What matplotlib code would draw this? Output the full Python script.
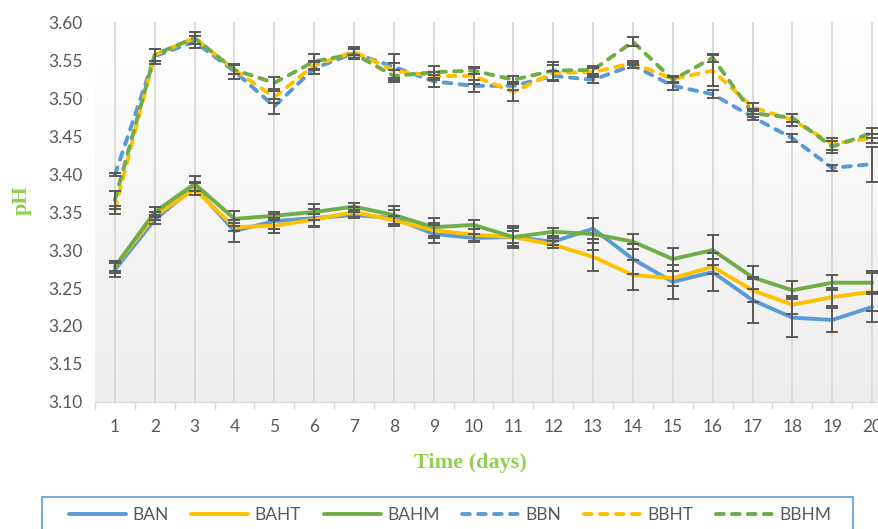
#! /usr/bin/env python3

import numpy as np
import matplotlib
matplotlib.use('Agg')
import matplotlib.pyplot as plt
from matplotlib.patches import Rectangle

# ========================================= #
# DATA      #
# ========================================= #

days = list(range(1, 21))

BAN  = [3.274, 3.340, 3.383, 3.325, 3.338, 3.342, 3.346, 3.342, 3.321, 3.316,
        3.317, 3.311, 3.328, 3.288, 3.258, 3.271, 3.234, 3.211, 3.208, 3.225]
BAHT = [3.278, 3.345, 3.380, 3.330, 3.332, 3.340, 3.350, 3.339, 3.326, 3.320,
        3.317, 3.307, 3.291, 3.267, 3.263, 3.278, 3.247, 3.228, 3.238, 3.245]
BAHM = [3.278, 3.350, 3.387, 3.341, 3.345, 3.350, 3.357, 3.346, 3.330, 3.333,
        3.317, 3.324, 3.321, 3.311, 3.288, 3.300, 3.264, 3.247, 3.257, 3.257]
BBN  = [3.399, 3.555, 3.574, 3.535, 3.489, 3.539, 3.559, 3.541, 3.522, 3.516,
        3.516, 3.529, 3.524, 3.543, 3.516, 3.505, 3.475, 3.447, 3.408, 3.413]
BBHT = [3.353, 3.557, 3.579, 3.537, 3.501, 3.543, 3.561, 3.536, 3.529, 3.529,
        3.508, 3.533, 3.534, 3.546, 3.525, 3.536, 3.488, 3.471, 3.440, 3.447]
BBHM = [3.366, 3.557, 3.579, 3.537, 3.520, 3.548, 3.558, 3.529, 3.534, 3.536,
        3.524, 3.536, 3.537, 3.574, 3.524, 3.553, 3.480, 3.474, 3.436, 3.454]

BAN_err  = [0.010, 0.006, 0.006, 0.015, 0.010, 0.012, 0.004, 0.010, 0.012, 0.005,
            0.012, 0.005, 0.014, 0.020, 0.022, 0.025, 0.030, 0.026, 0.016, 0.020]
BAHT_err = [0.005, 0.005, 0.008, 0.005, 0.010, 0.008, 0.006, 0.006, 0.010, 0.008,
            0.008, 0.005, 0.018, 0.020, 0.010, 0.010, 0.015, 0.012, 0.012, 0.025]
BAHM_err = [0.008, 0.006, 0.010, 0.010, 0.005, 0.010, 0.005, 0.012, 0.012, 0.006,
            0.015, 0.005, 0.021, 0.010, 0.015, 0.020, 0.015, 0.012, 0.010, 0.015]
BBN_err  = [0.002, 0.010, 0.008, 0.010, 0.010, 0.008, 0.008, 0.017, 0.008, 0.008,
            0.005, 0.006, 0.004, 0.003, 0.005, 0.005, 0.004, 0.005, 0.004, 0.023]
BBHT_err = [0.005, 0.008, 0.008, 0.006, 0.008, 0.006, 0.005, 0.010, 0.005, 0.010,
            0.012, 0.010, 0.005, 0.003, 0.004, 0.020, 0.005, 0.008, 0.008, 0.006]
BBHM_err = [0.012, 0.008, 0.008, 0.006, 0.008, 0.010, 0.006, 0.008, 0.008, 0.005,
            0.005, 0.012, 0.005, 0.006, 0.004, 0.005, 0.005, 0.005, 0.008, 0.006]

names  = ['BAN', 'BAHT', 'BAHM', 'BBN', 'BBHT', 'BBHM']
series = [BAN, BAHT, BAHM, BBN, BBHT, BBHM]
errs   = [BAN_err, BAHT_err, BAHM_err, BBN_err, BBHT_err, BBHM_err]

# ========================================= #
# STYLE                                     #
# ========================================= #

blue, yellow, green = '#5B9BD5', '#FFC000', '#70AD47'
cols  = [blue, yellow, green, blue, yellow, green]
dash  = [False, False, False, True, True, True]
gray  = '#595959'
titc  = '#92D050'

plt.rcParams['font.family'] = ['Lato', 'DejaVu Sans']

fig = plt.figure(figsize=(8.79, 5.29), dpi=100)
ax  = fig.add_axes([95/879, 127/529, 797/879, 380/529])

# soft vertical gradient in the plot area
grad = np.linspace(1.0, 0.0, 256).reshape(-1, 1)
ax.imshow(grad, extent=[0, 1, 0, 1], transform=ax.transAxes, aspect='auto',
          cmap=matplotlib.colors.LinearSegmentedColormap.from_list(
              'bg', ['#ededed', '#ffffff']), zorder=0)

lines = []
for nm, y, c, d in zip(names, series, cols, dash):
  if d:
    l, = ax.plot(days, y, color=c, lw=2.8, linestyle=(0, (2.0, 2.1)),
                 dash_capstyle='round', label=nm, zorder=3)
  else:
    l, = ax.plot(days, y, color=c, lw=2.8, solid_capstyle='round',
                 label=nm, zorder=3)
  lines.append(l)

for y, e in zip(series, errs):
  ax.errorbar(days, y, yerr=e, fmt='none', ecolor=gray, elinewidth=1.4,
              capsize=4, capthick=1.4, zorder=4)

ax.set_xlim(0.5, 20.5)
ax.set_ylim(3.10, 3.60)
ax.set_yticks(np.arange(3.10, 3.601, 0.05))
ax.set_yticklabels(['%.2f' % v for v in np.arange(3.10, 3.601, 0.05)])
ax.set_xticks(days)
ax.set_xticks(np.arange(0.5, 20.6, 1), minor=True)
ax.grid(axis='x', which='major', color='#d9d9d9', lw=1.3, zorder=1)
ax.tick_params(axis='x', which='major', length=0, pad=12, labelsize=12.5,
               colors=gray)
ax.tick_params(axis='x', which='minor', length=5, color='#d9d9d9', width=1.0)
ax.tick_params(axis='y', length=0, pad=9, labelsize=12.5, colors=gray)
for s in ['top', 'right', 'left']:
  ax.spines[s].set_visible(False)
ax.spines['bottom'].set_color('#d9d9d9')
ax.spines['bottom'].set_linewidth(1.0)

fig.text(470/879, 1-463/529, 'Time (days)', family='Liberation Serif',
         weight='bold', size=16, color=titc, ha='center', va='center')
fig.text(22/879, 1-200/529, 'pH', family='Liberation Serif', weight='bold',
         size=16, color=titc, ha='center', va='center', rotation=90)

# legend box (runs off the bottom edge like the reference)
fig.patches.append(Rectangle((42/879, -20/529), 811/879, 52/529,
                             transform=fig.transFigure, fill=False,
                             edgecolor=blue, lw=1.2))
leg = fig.legend(handles=lines, loc='center', ncol=6,
                 bbox_to_anchor=(450/879, 1-515/529),
                 fontsize=12.5, handlelength=3.3, handletextpad=0.35,
                 columnspacing=1.3, frameon=False, borderaxespad=0)
for t in leg.get_texts():
  t.set_color(gray)

fig.savefig('out.png', dpi=100)
